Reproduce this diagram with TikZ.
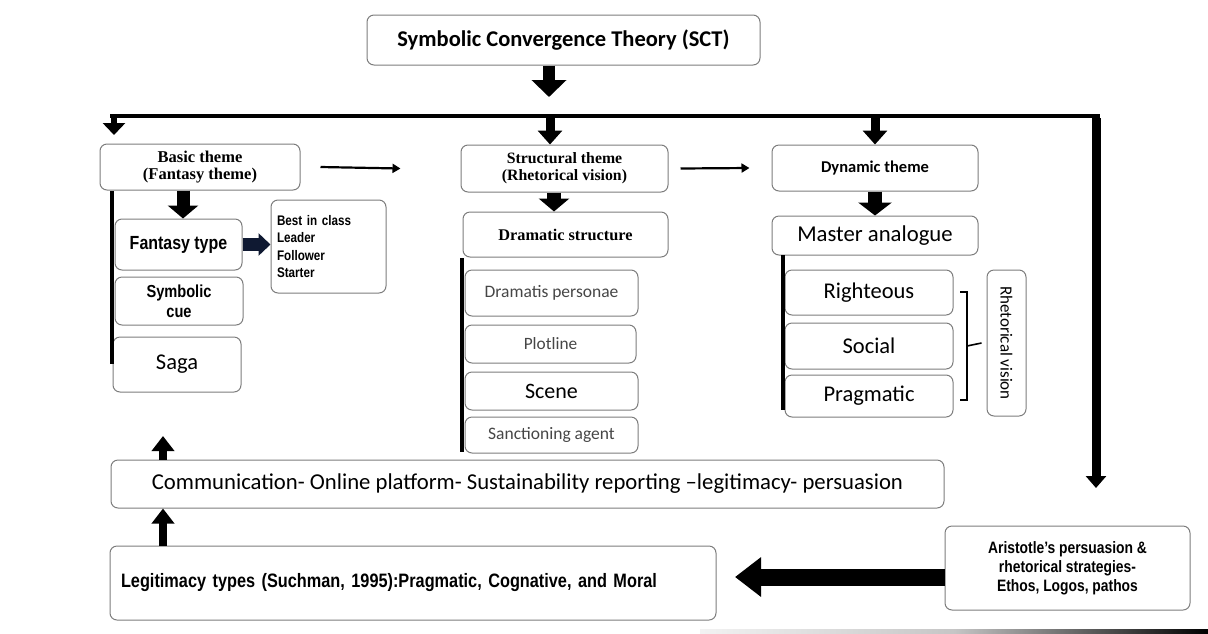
\documentclass[tikz,border=0pt]{standalone}
\usepackage{fontspec}
\setmainfont{Carlito}
\newfontfamily\srf{Liberation Serif}
\newfontfamily\nar[FakeStretch=0.84]{Liberation Sans}
\newcommand\tightsp{\spaceskip=0.23em\relax}
\usetikzlibrary{arrows.meta}
\definecolor{bordergray}{RGB}{125,125,125}
\definecolor{navy}{RGB}{15,25,50}
\definecolor{txtgray}{RGB}{70,70,70}
\begin{document}
\begin{tikzpicture}[x=1pt,y=-1pt,
  box/.style={draw=bordergray, line width=1pt, rounded corners=7pt, align=center, inner sep=1pt},
  fat/.style args={#1/#2/#3}{line width=#1, -{Triangle[width=#2,length=#3]}},
  slimarrow/.style={line width=2.2pt, -{Triangle[width=9pt,length=8pt]}},
  bar/.style={line width=3.5pt}]
\useasboundingbox (0,0) rectangle (1208,633);

% nodes
\node[box, minimum width=393pt, minimum height=50pt, font=\fontsize{22.5}{26}\selectfont\bfseries] (sct) at (563.5,40) {Symbolic Convergence Theory (SCT)};

\node[box, minimum width=200pt, minimum height=46pt, font=\srf\fontsize{16.5}{17}\selectfont\bfseries] (basic) at (200,167) {Basic theme\\(Fantasy theme)};
\node[box, minimum width=207pt, minimum height=47pt, font=\srf\fontsize{15.8}{17}\selectfont\bfseries] (struct) at (564.5,168.5) {Structural theme\\(Rhetorical vision)};
\node[box, minimum width=206pt, minimum height=46pt, font=\fontsize{16.5}{18}\selectfont\bfseries] (dyn) at (875,168) {Dynamic theme};

\node[box, minimum width=127pt, minimum height=51pt, font={\nar\fontsize{19}{21}\selectfont\bfseries\tightsp}] (fant) at (178.5,244.5) {Fantasy type};
\node[box, minimum width=115pt, minimum height=93pt, font={\nar\fontsize{13.9}{17.3}\selectfont\bfseries\tightsp}, align=left, text width=103pt] (best) at (328.5,246.5) {Best in class\\Leader\\Follower\\Starter};
\node[box, minimum width=128pt, minimum height=48pt, font=\nar\fontsize{17.4}{20}\selectfont\bfseries] (symb) at (179,301) {Symbolic\\cue};
\node[box, minimum width=128pt, minimum height=55pt, font=\fontsize{22.5}{25}\selectfont] (saga) at (177,364.5) {Saga};

\node[box, minimum width=205pt, minimum height=45pt, font=\srf\fontsize{16.3}{19}\selectfont\bfseries] (drama) at (565.5,234.5) {Dramatic structure};
\node[box, minimum width=173pt, minimum height=46pt, font=\fontsize{17.5}{19}\selectfont, text=txtgray] (pers) at (551.5,293) {Dramatis personae};
\node[box, minimum width=171pt, minimum height=38pt, font=\fontsize{17.3}{19}\selectfont, text=txtgray] (plot) at (550.5,344) {Plotline};
\node[box, minimum width=173pt, minimum height=38pt, font=\fontsize{22}{24}\selectfont] (scene) at (551.5,391) {Scene};
\node[box, minimum width=173pt, minimum height=36pt, font=\fontsize{17.5}{19}\selectfont, text=txtgray] (sanc) at (551.5,435) {Sanctioning agent};

\node[box, minimum width=206pt, minimum height=39pt, font=\fontsize{22.7}{25}\selectfont] (master) at (875,235.5) {Master analogue};
\node[box, minimum width=168pt, minimum height=45pt, font=\fontsize{22.5}{24}\selectfont] (right) at (869,292.5) {Righteous};
\node[box, minimum width=168pt, minimum height=46pt, font=\fontsize{22.5}{24}\selectfont] (social) at (869,346) {Social};
\node[box, minimum width=168pt, minimum height=42pt, font=\fontsize{22.5}{24}\selectfont] (prag) at (869,396) {Pragmatic};
\node[box, minimum width=146pt, minimum height=39pt, rotate=-90, font=\fontsize{17}{19}\selectfont] (rv) at (1006.5,343) {Rhetorical vision};

\node[box, minimum width=833pt, minimum height=48pt, font=\fontsize{22.7}{25}\selectfont] (comm) at (527.5,484) {Communication- Online platform- Sustainability reporting –legitimacy- persuasion};
\node[box, minimum width=606pt, minimum height=74pt, font={\nar\fontsize{19.4}{21}\selectfont\bfseries\tightsp}, align=left, text width=584pt] (legit) at (413,583) {Legitimacy types (Suchman, 1995):Pragmatic, Cognative, and Moral};
\node[box, minimum width=245pt, minimum height=84pt, font={\nar\fontsize{16.5}{19}\selectfont\bfseries\tightsp}] (arist) at (1067.5,568) {Aristotle’s persuasion \&\\rhetorical strategies-\\Ethos, Logos, pathos};

% helper coordinates
\coordinate (tl) at (111,116);
\coordinate (tr) at (1096,116);
\coordinate (sctend) at (549,97);
\coordinate (rend) at (1096,488);
\coordinate (lend) at (114,135);
\coordinate (lbeg) at (114,116);
\coordinate (sbeg) at (550,117);
\coordinate (dbeg) at (875,117);
\coordinate (xa) at (183,0);
\coordinate (xb) at (554,0);
\coordinate (xc) at (163,0);
\coordinate (upend) at (163,436);
\coordinate (ya) at (0,577);
\coordinate (aend) at (735,577);
\coordinate (brk) at (967,346);

% SCT down arrow
\draw[fat=12pt/34pt/17pt] (sct.south -| sctend) -- (sctend);
% bus
\draw[line width=4pt] ([xshift=-1pt]tl) -- ([xshift=4pt]tr);
\draw[fat=9pt/20pt/12pt] ([yshift=-2pt]tr) -- (rend);
% small down arrows from bus
\draw[fat=6pt/22pt/12pt] (lbeg) -- (lend);
\draw[fat=9pt/24pt/14pt] (sbeg) -- (struct.north -| sbeg);
\draw[fat=9pt/24pt/14pt] (dbeg) -- (dyn.north);

% theme arrows
\draw[slimarrow] ([xshift=20pt]basic.east) -- ([xshift=-60pt]struct.west);
\draw[slimarrow] ([xshift=12pt]struct.east) -- ([xshift=-22pt]dyn.west);

% theme to sub boxes
\draw[fat=13pt/30pt/13pt] (basic.south -| xa) -- (fant.north -| xa);
\draw[fat=14pt/30pt/13pt] (struct.south -| xb) -- (drama.north -| xb);
\draw[fat=14pt/33pt/13pt] (dyn.south) -- (master.north);
\draw[navy, line width=13pt, -{Triangle[width=22pt,length=12pt]}] (fant.east) -- (best.west |- fant.east);

% vertical bars
\draw[bar] (112,191) -- (112,364);
\draw[bar] (462,258) -- (462,452);
\draw[bar] (783,255) -- (783,410);

% bracket
\draw[line width=1.6pt] (960,292) -- (967,292) -- (967,400) -- (960,400);
\draw[line width=1.6pt] (brk) -- ([xshift=-5pt]rv.south);

% up arrows
\draw[fat=8pt/22pt/15pt] (comm.north -| xc) -- (upend);
\draw[fat=8pt/22pt/15pt] (legit.north -| xc) -- (comm.south -| xc);

% Aristotle to legitimacy
\draw[fat=17pt/38pt/26pt] (arist.west |- ya) -- (aend);

% bottom edge line
\shade[left color=gray!10, right color=black, middle color=gray!45] (700,629) rectangle (1208,633);
\end{tikzpicture}
\end{document}
